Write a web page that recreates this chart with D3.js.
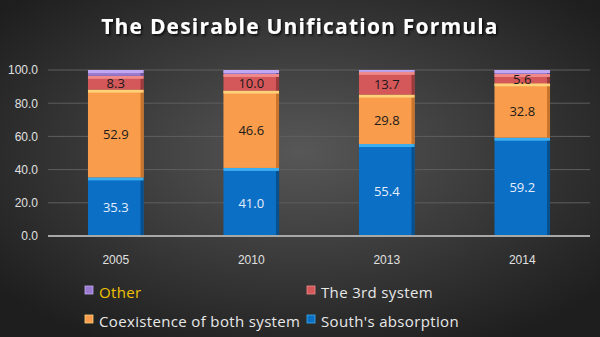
<!DOCTYPE html>
<html>
<head>
<meta charset="utf-8">
<script src="https://cdn.jsdelivr.net/npm/d3@7"></script>
<style>
  body { margin: 0; background: #2a2a2a; }
  svg { display: block; font-family: "Open Sans", "Noto Sans", sans-serif; }
</style>
</head>
<body>
<svg id="chart"></svg>
<script>
const years = ['2005', '2010', '2013', '2014'];
const southAbsorption = [35.3, 41.0, 55.4, 59.2];
const coexistence = [52.9, 46.6, 29.8, 32.8];
const thirdSystem = [8.3, 10.0, 13.7, 5.6];
const other = [3.5, 2.4, 1.1, 2.4];
const yTicks = [0, 20, 40, 60, 80, 100];

const series = [
  { key: 'south', name: "South's absorption", values: southAbsorption, fill: '#0b6fc6', top: '#3aaef0', side: '#084f8e', label: '#e6eefa' },
  { key: 'coex', name: 'Coexistence of both system', values: coexistence, fill: '#f99d4c', top: '#ffd27a', side: '#c8742c', label: '#1a1a1a' },
  { key: 'third', name: 'The 3rd system', values: thirdSystem, fill: '#d4575a', top: '#ef8a8a', side: '#9a3a3c', label: '#1a1a1a' },
  { key: 'other', name: 'Other', values: other, fill: '#9b7bd2', top: '#c2a8f0', side: '#6f559c', label: '#1a1a1a' }
];

const width = 600, height = 337;
const margin = { top: 70, right: 10, bottom: 101, left: 48 };
const innerW = width - margin.left - margin.right;
const innerH = height - margin.top - margin.bottom;

const svg = d3.select('#chart').attr('width', width).attr('height', height);

const defs = svg.append('defs');
const bg = defs.append('radialGradient').attr('id', 'bg')
  .attr('cx', '50%').attr('cy', '45%').attr('r', '65%');
bg.append('stop').attr('offset', '0%').attr('stop-color', '#575757');
bg.append('stop').attr('offset', '100%').attr('stop-color', '#1e1e1e');
const shadow = defs.append('filter').attr('id', 'shadow').attr('x', '-10%').attr('y', '-30%').attr('width', '120%').attr('height', '160%');
shadow.append('feDropShadow').attr('dx', 1.5).attr('dy', 1.5).attr('stdDeviation', 1).attr('flood-color', '#000').attr('flood-opacity', 0.8);

svg.append('rect').attr('width', width).attr('height', height).attr('fill', 'url(#bg)');

svg.append('text')
  .attr('x', width / 2).attr('y', 34)
  .attr('text-anchor', 'middle')
  .attr('fill', '#ffffff')
  .style('font-size', '21px').style('font-weight', 'bold').style('letter-spacing', '1.2px')
  .attr('filter', 'url(#shadow)')
  .text('The Desirable Unification Formula');

const chart = svg.append('g').attr('transform', `translate(${margin.left},${margin.top})`);

const x = d3.scaleBand().domain(years).range([0, innerW]).paddingInner(0.59).paddingOuter(0.295);
const y = d3.scaleLinear().domain([0, 100]).range([innerH, 0]);

// gridlines
chart.append('g').selectAll('line').data(yTicks.slice(1)).join('line')
  .attr('x1', 0).attr('x2', innerW)
  .attr('y1', d => y(d)).attr('y2', d => y(d))
  .attr('stroke', '#5e5e5e').attr('stroke-width', 1);

const yAxis = d3.axisLeft(y).tickValues(yTicks).tickFormat(d3.format('.1f')).tickSize(0).tickPadding(10);
chart.append('g').call(yAxis)
  .call(g => g.select('.domain').remove())
  .selectAll('text').attr('fill', '#e0e0e0').style('font-size', '12px');

const stackData = years.map((yr, i) => {
  const row = { year: yr };
  series.forEach(s => { row[s.key] = s.values[i]; });
  return row;
});
const stacked = d3.stack().keys(series.map(s => s.key))(stackData);

const bw = x.bandwidth();
stacked.forEach((layer, li) => {
  const s = series[li];
  const g = chart.append('g');
  const segs = g.selectAll('g').data(layer).join('g');
  segs.append('rect')
    .attr('x', d => x(d.data.year)).attr('y', d => y(d[1]))
    .attr('width', bw).attr('height', d => y(d[0]) - y(d[1]))
    .attr('fill', s.fill);
  segs.append('rect')
    .attr('x', d => x(d.data.year) + bw - 3).attr('y', d => y(d[1]))
    .attr('width', 3).attr('height', d => y(d[0]) - y(d[1]))
    .attr('fill', s.side);
  segs.append('rect')
    .attr('x', d => x(d.data.year)).attr('y', d => y(d[1]))
    .attr('width', bw).attr('height', d => Math.min(3, y(d[0]) - y(d[1])))
    .attr('fill', s.top);
  if (s.key !== 'other') {
    segs.append('text')
      .attr('x', d => x(d.data.year) + bw / 2)
      .attr('y', d => (y(d[0]) + y(d[1])) / 2 + 1)
      .attr('dy', '0.35em')
      .attr('text-anchor', 'middle')
      .attr('fill', s.label)
      .style('font-size', '13px')
      .text(d => d3.format('.1f')(d[1] - d[0]));
  }
});

// baseline
chart.append('line').attr('x1', 0).attr('x2', innerW).attr('y1', innerH).attr('y2', innerH)
  .attr('stroke', '#a8a8a8').attr('stroke-width', 2);

const xAxis = d3.axisBottom(x).tickSize(0).tickPadding(19);
chart.append('g').attr('transform', `translate(0,${innerH})`).call(xAxis)
  .call(g => g.select('.domain').remove())
  .selectAll('text').attr('fill', '#e0e0e0').style('font-size', '12px');

// legend
const legendItems = [
  { s: series[3], x: 85, y: 293, color: '#f2c200' },
  { s: series[2], x: 307, y: 293, color: '#e8e8e8' },
  { s: series[1], x: 85, y: 322, color: '#e8e8e8' },
  { s: series[0], x: 307, y: 322, color: '#e8e8e8' }
];
const legend = svg.append('g').selectAll('g').data(legendItems).join('g')
  .attr('transform', d => `translate(${d.x},${d.y})`);
legend.append('rect').attr('x', 0).attr('y', -7).attr('width', 8).attr('height', 8)
  .attr('fill', d => d.s.fill).attr('stroke', d => d.s.top).attr('stroke-width', 0.8);
legend.append('text').attr('x', 14).attr('y', 0).attr('dy', '0.32em')
  .attr('fill', d => d.color).style('font-size', '15px').style('letter-spacing', '0.35px')
  .text(d => d.s.name);
</script>
</body>
</html>
